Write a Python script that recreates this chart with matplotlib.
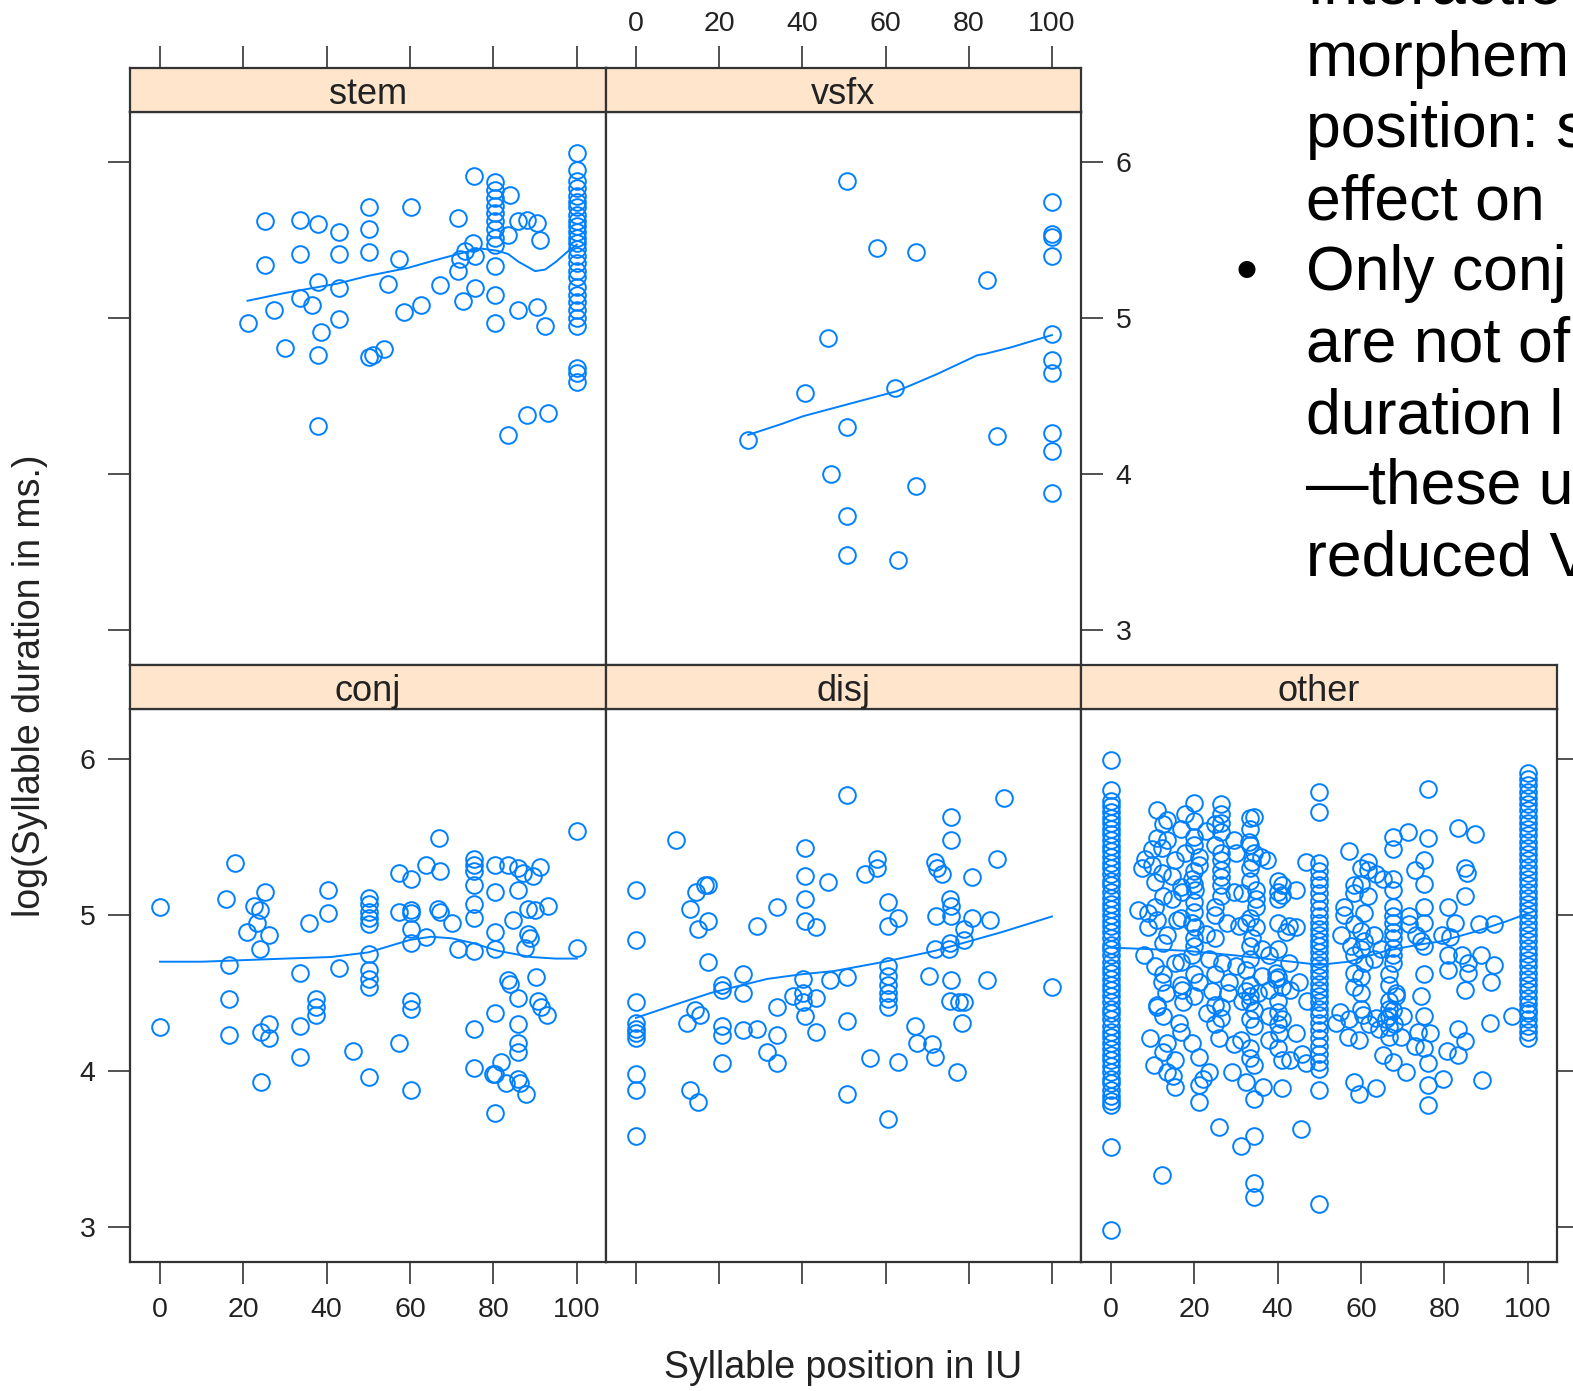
import matplotlib
matplotlib.use("Agg")
import matplotlib.pyplot as plt

plt.rcParams['font.family'] = ['Liberation Sans', 'DejaVu Sans']

# ---- data: x = syllable position (%), y = log duration ----
stem_x = [25.1, 33.5, 37.8, 43, 50.2, 50.2, 60.2, 75.3, 71.5,
          25.1, 33.5, 43, 50.2, 57.4, 37.8, 43, 33.5, 36.5, 27.3, 21.1, 43, 38.6, 30.1, 37.8,
          50.2, 51, 53.8, 54.6, 58.6, 62.7, 67.1, 71.5, 71.9, 73.1, 75.1, 75.5, 72.7, 75.5,
          80.3, 80.3, 80.3, 80.3, 80.3, 80.3, 80.3, 80.3, 80.3, 80.3, 80.3, 80.3,
          83.9, 83.5, 86, 88, 90.4, 91.2, 86, 90.4, 92.4, 88, 93.2, 83.5, 37.8,
          100, 100, 100, 100, 100, 100, 100, 100, 100, 100, 100, 100, 100, 100,
          100, 100, 100, 100, 100, 100, 100, 100, 100, 100, 100, 100, 100]
stem_y = [5.62, 5.63, 5.60, 5.55, 5.71, 5.57, 5.71, 5.91, 5.64,
          5.34, 5.41, 5.41, 5.42, 5.38, 5.23, 5.19, 5.13, 5.08, 5.05, 4.97, 4.99, 4.91, 4.81, 4.76,
          4.75, 4.76, 4.80, 5.22, 5.04, 5.08, 5.21, 5.30, 5.38, 5.43, 5.48, 5.40, 5.11, 5.19,
          5.87, 5.82, 5.77, 5.72, 5.67, 5.62, 5.57, 5.51, 5.47, 5.33, 5.15, 4.97,
          5.79, 5.53, 5.62, 5.63, 5.61, 5.50, 5.05, 5.07, 4.95, 4.38, 4.39, 4.25, 4.31,
          6.06, 5.95, 5.88, 5.83, 5.78, 5.74, 5.71, 5.66, 5.62, 5.59, 5.55, 5.51, 5.48, 5.44,
          5.40, 5.35, 5.30, 5.26, 5.20, 5.15, 5.10, 5.05, 5.00, 4.95, 4.68, 4.65, 4.59]
stem_fit_x = [21, 30, 42.6, 50, 59.4, 66, 73, 77, 81, 83.5, 86, 88, 90, 92.4, 95, 98, 100]
stem_fit_y = [5.11, 5.16, 5.22, 5.27, 5.32, 5.37, 5.42, 5.445, 5.43, 5.41, 5.36, 5.33, 5.30, 5.31, 5.36, 5.43, 5.47]

vsfx_x = [50.7, 100, 100, 100, 100, 57.9, 67.4, 84.3, 46.1, 100, 100, 100, 40.6, 62.3, 27,
          50.7, 86.7, 100, 100, 46.8, 67.4, 100, 50.7, 50.7, 63.1]
vsfx_y = [5.88, 5.74, 5.54, 5.52, 5.40, 5.45, 5.42, 5.24, 4.87, 4.90, 4.73, 4.65, 4.52, 4.55, 4.22,
          4.30, 4.24, 4.26, 4.15, 4.00, 3.92, 3.88, 3.73, 3.48, 3.45]
vsfx_fit_x = [27, 35, 40.2, 50, 62.7, 68, 72.4, 78, 82, 84, 90, 95, 100]
vsfx_fit_y = [4.25, 4.32, 4.37, 4.44, 4.53, 4.59, 4.64, 4.71, 4.76, 4.77, 4.81, 4.85, 4.89]

conj_x = [0, 0, 18.1, 15.8, 16.6, 16.6, 16.6, 22.5, 24.1, 23.3, 20.9, 25.2, 26.1, 24.1, 24.3,
          26.1, 26.1, 24.3, 33.5, 33.5, 33.5, 35.7, 40.2, 40.2, 37.5, 37.5, 37.5, 43, 46.4,
          50.2, 50.2, 50.2, 50.2, 50.2, 50.2, 50.2, 50.2, 50.2, 50.2,
          57.3, 60.2, 57.3, 60.2, 60.2, 60.2, 60.2, 60.2, 60.2, 57.3, 60.2,
          67.0, 63.9, 67.1, 63.9, 66.7, 67.1, 70.1, 71.5,
          75.3, 75.3, 75.3, 75.3, 75.3, 75.3, 75.3, 75.3, 75.3,
          80.3, 80.3, 80.3, 80.3, 80.3, 80.3, 80.3,
          83.5, 85.9, 87.1, 89.5, 91.1, 85.9, 84.7, 88.3, 89.9, 93.2, 88.3, 88.7, 87.5,
          83.5, 84, 90.3, 85.9, 90.7, 91.5, 92.8, 85.9, 85.9, 85.9, 81.9, 79.9, 83.1, 85.9,
          86.3, 87.8, 100, 100]
conj_y = [5.05, 4.28, 5.33, 5.10, 4.68, 4.46, 4.23, 5.06, 5.03, 4.95, 4.89, 5.15, 4.87, 4.78, 4.25,
          4.30, 4.21, 3.93, 4.63, 4.29, 4.09, 4.95, 5.01, 5.16, 4.46, 4.41, 4.36, 4.66, 4.13,
          5.11, 5.07, 5.02, 4.98, 4.94, 4.75, 4.65, 4.59, 4.54, 3.96,
          5.27, 5.23, 5.02, 5.03, 5.01, 4.91, 4.82, 4.45, 4.40, 4.18, 3.88,
          5.49, 5.32, 5.28, 4.86, 5.04, 5.02, 4.95, 4.78,
          5.36, 5.32, 5.28, 5.19, 5.07, 4.98, 4.77, 4.27, 4.02,
          5.32, 5.15, 4.89, 4.78, 4.37, 3.98, 3.73,
          5.32, 5.30, 5.27, 5.25, 5.31, 5.16, 4.97, 5.04, 5.03, 5.06, 4.88, 4.85, 4.79,
          4.58, 4.56, 4.60, 4.47, 4.45, 4.41, 4.36, 4.30, 4.18, 4.12, 4.06, 3.98, 3.92, 3.95,
          3.92, 3.85, 5.54, 4.79]
conj_fit_x = [0, 10, 20, 30, 41, 50, 55, 60, 65, 70, 75, 81, 85, 89, 95, 100]
conj_fit_y = [4.70, 4.70, 4.71, 4.72, 4.73, 4.76, 4.80, 4.84, 4.86, 4.85, 4.82, 4.77, 4.75, 4.73, 4.72, 4.72]

disj_x = [50.7, 88.4, 75.8, 75.8, 9.7, 40.6, 86.7, 57.9, 57.9, 55.0, 71.9, 72.4, 73.6, 80.8,
          40.6, 46.1, 0, 14.5, 16.5, 17.3, 12.9, 14.8, 17.3, 0, 33.8, 29, 40.6, 40.6, 43.4,
          60.7, 60.7, 63.1, 72.1, 75.6, 75.8, 75.8, 80.8, 85.2, 78.8, 71.9, 75.4, 78.8, 75.2,
          17.3, 20.6, 20.6, 25.8, 25.8, 0, 0, 0, 0, 0, 14.2, 15.4, 12.2, 20.6, 20.6, 25.8, 29,
          33.8, 33.8, 37.8, 40.2, 40.2, 40.6, 43.4, 40.2, 46.7, 50.7, 43.4, 50.7,
          60.7, 60.7, 60.7, 60.7, 60.7, 60.7, 70.4, 75.8, 75.6, 77.6, 78.8, 84.3, 100, 78.4,
          67.1, 67.5, 71.1, 71.9, 77.3, 20.6, 31.4, 33.8, 56.3, 63.1, 0, 0, 12.9, 14.9,
          50.7, 60.7, 0]
disj_y = [5.77, 5.75, 5.63, 5.48, 5.48, 5.43, 5.36, 5.36, 5.30, 5.26, 5.34, 5.30, 5.26, 5.24,
          5.25, 5.21, 5.16, 5.15, 5.19, 5.19, 5.04, 4.91, 4.96, 4.84, 5.05, 4.93, 5.10, 4.96, 4.92,
          5.08, 4.93, 4.98, 4.99, 5.10, 5.06, 4.99, 4.98, 4.97, 4.91, 4.78, 4.82, 4.84, 4.78,
          4.70, 4.55, 4.52, 4.62, 4.50, 4.44, 4.31, 4.27, 4.24, 4.21, 4.39, 4.36, 4.31, 4.29, 4.23, 4.26, 4.27,
          4.41, 4.23, 4.48, 4.50, 4.44, 4.35, 4.47, 4.59, 4.58, 4.60, 4.25, 4.32,
          4.67, 4.61, 4.55, 4.50, 4.46, 4.41, 4.61, 4.58, 4.45, 4.44, 4.44, 4.58, 4.54, 4.31,
          4.29, 4.18, 4.17, 4.09, 3.99, 4.05, 4.12, 4.05, 4.08, 4.06, 3.98, 3.88, 3.88, 3.80,
          3.85, 3.69, 3.58]
disj_fit_x = [0, 10, 18, 31.6, 40, 47.6, 59.8, 71.9, 80, 88, 100]
disj_fit_y = [4.34, 4.43, 4.50, 4.59, 4.62, 4.64, 4.70, 4.77, 4.83, 4.89, 4.99]

# 'other': dense columns at 0, 50 and 100, then the scattered points
other_x0_y = [5.99, 5.80, 5.73, 5.70, 5.66, 5.62, 5.59, 5.55, 5.52, 5.48, 5.44, 5.41, 5.37, 5.33,
              5.30, 5.26, 5.22, 5.19, 5.15, 5.11, 5.07, 5.04, 5.00, 4.96, 4.93, 4.89, 4.85, 4.81,
              4.78, 4.74, 4.70, 4.66, 4.63, 4.59, 4.55, 4.52, 4.48, 4.44, 4.40, 4.37, 4.33, 4.29,
              4.25, 4.22, 4.18, 4.14, 4.10, 4.07, 4.03, 3.99, 3.95, 3.92, 3.88, 3.84, 3.81, 3.78,
              3.51, 2.98]
other_x50_y = [5.79, 5.66, 5.33, 5.28, 5.23, 5.19, 5.14, 5.09, 5.04, 4.99, 4.95, 4.91, 4.87,
               4.83, 4.80, 4.76, 4.72, 4.68, 4.64, 4.60, 4.56, 4.52, 4.48, 4.44, 4.40, 4.36,
               4.31, 4.26, 4.21, 4.16, 4.11, 4.06, 4.01, 3.88, 3.15]
other_x100_y = [5.91, 5.87, 5.83, 5.79, 5.75, 5.71, 5.67, 5.63, 5.59, 5.55, 5.51, 5.47, 5.43,
                5.39, 5.35, 5.31, 5.27, 5.23, 5.19, 5.15, 5.11, 5.07, 5.03, 4.99, 4.95, 4.91,
                4.87, 4.83, 4.79, 4.75, 4.71, 4.67, 4.63, 4.59, 4.55, 4.51, 4.47, 4.43, 4.39,
                4.37, 4.33, 4.29, 4.25, 4.21]
other_x = [11.0, 13.4, 17.8, 26.3, 26.3, 26.3, 26.3, 34.3, 22.7,
           11, 13.4, 9.8, 12.2, 8.2, 9.8, 7.4, 12.2, 14.6, 10.6, 15.4, 17.8, 21.0, 21.0, 19.4, 17, 20.2, 14.6,
           26.3, 26.3, 26.3, 26.3, 26.3, 26.3, 29.5, 29.9, 33.1, 34.3, 35.9, 37.5, 33.9,
           29.5, 31.5, 34.7, 34.7, 34.7, 41.1, 41.1, 44.3, 46.7, 42.7, 44.3, 41.9,
           6.4, 8.9, 10.5, 11.0, 8.9, 13.4, 15.8, 19.4, 20.2, 22.7, 27.9, 30.7, 32.3, 34.7,
           33.9, 36.3, 37.9, 7.8, 10.6, 15.4, 19.4, 23.5, 26.7, 29.9, 32.3, 36.3, 39.5, 42.7,
           12.2, 17, 21, 24.3, 28.3, 32.3, 37.9, 41.1, 45.1,
           11.1, 28.1, 31.4, 35.2, 39.7, 43, 47.1, 13.2, 17.3, 26.4, 22.1, 36.4, 43, 14.8,
           11, 16.2, 9.4, 13.4, 10.2, 13.4, 15.4, 15.4, 19.4, 21, 23.5, 21, 21, 23, 26.3, 25.9,
           29.5, 31.1, 29.1, 32.3, 34.3, 34.3, 34.3, 34.3, 37.9, 41.1, 37.9, 40.3, 41.1, 41.1,
           44.3, 45.9, 46.7, 25.9, 31.1, 34.3, 45.5, 12.2, 34.3, 34.3,
           76.1, 57.2, 67.6, 71.2, 67.6, 76.1, 72.9, 83.3, 87.3, 84.9, 85.3,
           61.6, 61.6, 63.6, 65.2, 67.6, 67.6, 58.4, 58.4, 61.6, 55.9, 55.9, 58.4, 60.8,
           67.6, 67.6, 67.6, 67.6, 67.6, 67.6, 67.6, 67.6, 71.6, 71.6, 73.2, 74.4,
           84.9, 80.9, 82.5, 79.3, 81.3, 88.4, 92, 55.2, 57.6, 60.8, 63.2, 64.8, 58.4, 60.8,
           63.2, 58.4, 58.4, 80.9, 84.1, 85.7, 80.9, 85.7, 88.8, 92, 91.2, 84.9, 74.4, 68.4, 68.4,
           53.9, 56.8, 59.6, 58.4, 59.6, 63.6, 63.6, 64.4, 65.2, 67.6, 70.8, 67.6, 69.6, 72.9,
           73.7, 76.5, 76.1, 76.1, 76.1, 79.7, 80.5, 83.3, 84.9, 83.3, 88.9, 90.9, 96.1,
           55, 57, 60.5, 62, 66, 68, 70,
           # stacked columns at 16.7, 20, 25, 33.3, 40 and to the right of 50
           33.3, 33.3, 33.3, 33.3, 33.3, 33.3, 33.3, 33.3, 33.3, 33.3, 33.3, 33.3, 33.3, 33.3,
           20, 20, 20, 20, 20, 20, 20, 20, 20, 20, 20, 20,
           25, 25, 25, 25, 25, 25, 25, 25,
           40, 40, 40, 40, 40, 40, 40, 40, 40, 40,
           16.7, 16.7, 16.7, 16.7, 16.7, 16.7, 12.5, 12.5, 12.5, 12.5, 12.5, 12.5,
           66.7, 66.7, 66.7, 66.7, 66.7, 66.7, 66.7,
           60, 60, 60, 60, 60, 60, 60,
           75, 75, 75, 75, 75, 75, 75, 75]
other_y = [5.67, 5.61, 5.65, 5.71, 5.65, 5.59, 5.53, 5.63, 5.54,
           5.49, 5.48, 5.42, 5.43, 5.36, 5.32, 5.30, 5.27, 5.25, 5.21, 5.35, 5.40, 5.37, 5.32, 5.23, 5.15, 5.16, 5.10,
           5.40, 5.35, 5.29, 5.24, 5.19, 5.12, 5.48, 5.40, 5.47, 5.40, 5.37, 5.35, 5.34,
           5.15, 5.14, 5.16, 5.10, 5.05, 5.19, 5.13, 5.16, 5.34, 4.93, 4.92, 4.89,
           5.03, 5.01, 5.05, 4.97, 4.92, 4.87, 4.97, 4.95, 4.92, 4.88, 4.95, 4.93, 4.95, 4.92,
           4.85, 4.78, 4.74, 4.74, 4.67, 4.69, 4.74, 4.72, 4.69, 4.67, 4.65, 4.61, 4.63, 4.69,
           4.57, 4.52, 4.57, 4.51, 4.57, 4.51, 4.52, 4.54, 4.57,
           4.42, 4.50, 4.45, 4.50, 4.59, 4.52, 4.45, 4.50, 4.44, 4.41, 3.95, 3.90, 4.07, 3.97,
           4.41, 4.31, 4.21, 4.18, 4.04, 3.99, 4.07, 3.90, 4.18, 4.09, 3.99, 3.91, 3.80, 4.37, 4.34, 4.21,
           4.17, 4.20, 3.99, 3.93, 4.04, 3.82, 4.39, 4.29, 4.35, 4.33, 4.20, 4.24, 4.07, 3.89,
           4.24, 4.11, 4.05, 3.64, 3.52, 3.58, 3.63, 3.33, 3.28, 3.19,
           5.81, 5.41, 5.50, 5.53, 5.42, 5.49, 5.29, 5.56, 5.52, 5.30, 5.27,
           5.34, 5.29, 5.26, 5.23, 5.23, 5.16, 5.19, 5.14, 5.12, 5.05, 5.00, 4.94, 5.01,
           5.05, 4.99, 4.95, 4.89, 4.85, 4.79, 4.74, 4.69, 4.99, 4.94, 4.87, 4.83,
           5.12, 5.05, 4.95, 4.87, 4.86, 4.94, 4.94, 4.87, 4.80, 4.83, 4.87, 4.78, 4.74, 4.69,
           4.72, 4.63, 4.54, 4.74, 4.74, 4.69, 4.65, 4.63, 4.74, 4.68, 4.57, 4.52, 4.48, 4.50, 4.48,
           4.31, 4.22, 4.20, 3.93, 3.85, 3.89, 4.34, 4.27, 4.10, 4.06, 3.99, 4.39, 4.22, 4.16,
           4.25, 4.24, 4.05, 3.91, 3.78, 3.95, 4.13, 4.27, 4.19, 4.10, 3.94, 4.31, 4.35,
           4.38, 4.33, 4.36, 4.30, 4.33, 4.30, 4.35,
           5.62, 5.55, 5.45, 5.30, 5.22, 4.98, 4.80, 4.72, 4.55, 4.48, 4.44, 4.33, 4.15, 4.08,
           5.72, 5.60, 5.50, 5.45, 5.28, 5.20, 5.08, 5.02, 4.85, 4.80, 4.62, 4.48,
           5.58, 5.45, 5.05, 5.00, 4.85, 4.62, 4.42, 4.30,
           5.22, 5.15, 5.10, 4.95, 4.78, 4.60, 4.45, 4.38, 4.30, 4.15,
           5.55, 5.18, 4.98, 4.70, 4.55, 4.25, 5.58, 5.12, 4.82, 4.62, 4.35, 4.12,
           4.62, 4.55, 4.45, 4.40, 4.35, 4.28, 4.22,
           5.30, 5.20, 4.90, 4.78, 4.60, 4.50, 4.40,
           5.35, 5.20, 5.05, 4.95, 4.80, 4.62, 4.35, 4.15]
other_fit_x = [0, 10, 18, 30, 40, 50, 57, 66, 74, 79, 87, 95, 100]
other_fit_y = [4.79, 4.78, 4.77, 4.74, 4.71, 4.68, 4.70, 4.77, 4.81, 4.83, 4.89, 4.96, 5.01]

x_ticks = [0, 20, 40, 60, 80, 100]
y_ticks = [3, 4, 5, 6]

# ---- layout (pixel geometry of the lattice) ----
W, H = 1573, 1391
BLUE = '#0080ff'
EDGE = '#333333'
STRIP = '#ffe5cc'
XLIM = (-7.2, 107.0)
YLIM = (2.775, 6.32)


def rect(x0, y0, x1, y1):
    return [x0 / W, 1 - y1 / H, (x1 - x0) / W, (y1 - y0) / H]


def style(ax):
    for s in ax.spines.values():
        s.set_color(EDGE)
        s.set_linewidth(1.6)
    ax.tick_params(direction='out', length=16, width=1.2, color=EDGE,
                   labelsize=20.5, labelcolor='#222222', pad=9)


fig = plt.figure(figsize=(W / 100, H / 100), dpi=100)

cols = [130, 606, 1081, 1557]
rows = {0: (68, 112, 665), 1: (665, 709, 1262)}

panels = [
    ('stem', 0, 0, stem_x, stem_y, stem_fit_x, stem_fit_y),
    ('vsfx', 1, 0, vsfx_x, vsfx_y, vsfx_fit_x, vsfx_fit_y),
    ('conj', 0, 1, conj_x, conj_y, conj_fit_x, conj_fit_y),
    ('disj', 1, 1, disj_x, disj_y, disj_fit_x, disj_fit_y),
    ('other', 2, 1, None, None, other_fit_x, other_fit_y),
]
mk = dict(ls='none', marker='o', mfc='none', mec=BLUE, ms=12, mew=1.4)

for name, c, r, px, py, fx, fy in panels:
    s_top, d_top, d_bot = rows[r]
    ax = fig.add_axes(rect(cols[c], d_top, cols[c + 1], d_bot))
    st = fig.add_axes(rect(cols[c], s_top, cols[c + 1], d_top))
    style(ax)
    style(st)
    ax.set_xlim(XLIM)
    ax.set_ylim(YLIM)
    st.set_xlim(XLIM)
    st.set_ylim(0, 1)
    st.set_facecolor(STRIP)
    st.set_yticks([])
    st.text(0.5, 0.40, name, transform=st.transAxes, ha='center', va='center',
            fontsize=26, color='#222222')

    if name == 'other':
        ax.plot([0] * len(other_x0_y), other_x0_y, **mk)
        ax.plot([50] * len(other_x50_y), other_x50_y, **mk)
        ax.plot([100] * len(other_x100_y), other_x100_y, **mk)
        ax.plot(other_x, other_y, **mk)
    else:
        ax.plot(px, py, **mk)
    ax.plot(fx, fy, color=BLUE, lw=1.4)

    # x axis: top ticks above the strips of the top row, bottom ticks on the bottom row
    ax.set_xticks(x_ticks)
    st.set_xticks(x_ticks)
    if r == 0:
        ax.tick_params(axis='x', bottom=False, labelbottom=False)
        st.tick_params(axis='x', top=True, bottom=False, labelbottom=False,
                       labeltop=(name == 'vsfx'), pad=6)
    else:
        st.tick_params(axis='x', top=False, bottom=False, labelbottom=False)
        ax.tick_params(axis='x', bottom=True, labelbottom=(name != 'disj'))

    # y axis: alternating left / right like lattice
    ax.set_yticks(y_ticks)
    left = c == 0
    right = (name == 'vsfx') or (name == 'other')
    ax.tick_params(axis='y', left=left, labelleft=(name == 'conj'),
                   right=right, labelright=(name == 'vsfx'))

fig.text(30 / W, 1 - 686 / H, 'log(Syllable duration in ms.)', rotation=90,
         ha='center', va='center', fontsize=27, color='#222222')
fig.text(843 / W, 1 - 1368 / H, 'Syllable position in IU', ha='center', va='center',
         fontsize=27, color='#222222')

# slide text that sits next to the chart (cut at the right edge, as in the source)
slide_lines = ['Interactio', 'morphem', 'position: s', 'effect on', 'Only conj',
               'are not of', 'duration l', '\u2014these u', 'reduced V']
slide_base = [3, 76, 147, 219, 290, 361, 433, 503, 575]
for line, b in zip(slide_lines, slide_base):
    fig.text(1306 / W, 1 - b / H, line, ha='left', va='baseline', fontsize=45, color='black')
fig.text(1246 / W, 1 - 290 / H, '\u2022', ha='center', va='baseline', fontsize=45, color='black')

fig.savefig('out.png', dpi=100)
